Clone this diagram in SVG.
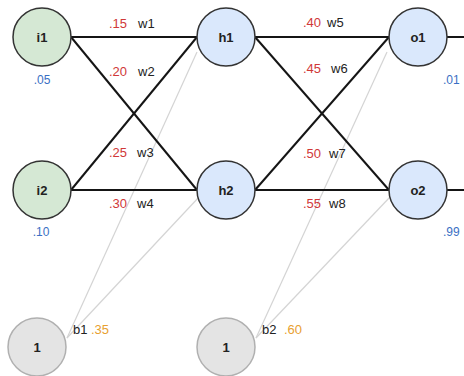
<svg xmlns="http://www.w3.org/2000/svg" width="464" height="376" viewBox="0 0 464 376">
<style>
text{font-family:"Liberation Sans",Arial,sans-serif}
.w{stroke:#151515;stroke-width:2;fill:none}
.b{stroke:#d4d4d4;stroke-width:1.2;fill:none}
.in{fill:#d5e8d4;stroke:#333;stroke-width:1.5}
.hid{fill:#dae8fc;stroke:#333;stroke-width:1.5}
.bias{fill:#e4e4e4;stroke:#b0b0b0;stroke-width:1.5}
.nl{font-size:13px;font-weight:bold;fill:#222;text-anchor:middle}
.r{font-size:13px;fill:#d03838}
.k{font-size:13px;fill:#222}
.bl{font-size:12px;fill:#3a6fc4}
.o{font-size:13px;fill:#e8a030}
</style>
<g id="connectors">
<line class="b" x1="67" y1="338" x2="197" y2="52"/>
<line class="b" x1="67" y1="338" x2="199" y2="197"/>
<line class="b" x1="256" y1="338" x2="387" y2="52"/>
<line class="b" x1="256" y1="338" x2="390" y2="197"/>
<line class="w" x1="71" y1="37" x2="197" y2="37"/>
<line class="w" x1="71" y1="37" x2="197" y2="190"/>
<line class="w" x1="71" y1="190" x2="197" y2="37"/>
<line class="w" x1="71" y1="190" x2="197" y2="190"/>
<line class="w" x1="255" y1="37" x2="389" y2="37"/>
<line class="w" x1="255" y1="37" x2="389" y2="190"/>
<line class="w" x1="255" y1="190" x2="389" y2="37"/>
<line class="w" x1="255" y1="190" x2="389" y2="190"/>
<line class="w" x1="447" y1="37" x2="464" y2="37"/>
<line class="w" x1="447" y1="190" x2="464" y2="190"/>
</g>
<g id="i1"><circle class="in" cx="42" cy="37" r="29"/><text class="nl" x="42" y="42">i1</text></g>
<g id="i2"><circle class="in" cx="42" cy="190" r="29"/><text class="nl" x="42" y="195">i2</text></g>
<g id="h1"><circle class="hid" cx="226" cy="37" r="29"/><text class="nl" x="226" y="42">h1</text></g>
<g id="h2"><circle class="hid" cx="226" cy="190" r="29"/><text class="nl" x="226" y="195">h2</text></g>
<g id="o1"><circle class="hid" cx="418" cy="37" r="29"/><text class="nl" x="418" y="42">o1</text></g>
<g id="o2"><circle class="hid" cx="418" cy="190" r="29"/><text class="nl" x="418" y="195">o2</text></g>
<g id="b1"><circle class="bias" cx="37" cy="347" r="29"/><text class="nl" x="37" y="352">1</text></g>
<g id="b2"><circle class="bias" cx="226" cy="347" r="29"/><text class="nl" x="226" y="352">1</text></g>
<g id="labels">
<text class="bl" x="42" y="84" text-anchor="middle">.05</text>
<text class="bl" x="41" y="236" text-anchor="middle">.10</text>
<text class="bl" x="443" y="84">.01</text>
<text class="bl" x="443" y="236">.99</text>
<text class="r" x="109" y="28">.15</text><text class="k" x="138" y="28">w1</text>
<text class="r" x="109" y="76">.20</text><text class="k" x="138" y="76">w2</text>
<text class="r" x="109" y="157">.25</text><text class="k" x="137" y="157">w3</text>
<text class="r" x="109" y="208">.30</text><text class="k" x="137" y="208">w4</text>
<text class="r" x="303" y="27">.40</text><text class="k" x="327" y="27">w5</text>
<text class="r" x="303" y="73">.45</text><text class="k" x="331" y="73">w6</text>
<text class="r" x="303" y="158">.50</text><text class="k" x="329" y="158">w7</text>
<text class="r" x="303" y="208">.55</text><text class="k" x="329" y="208">w8</text>
<text class="k" x="73" y="334">b1</text><text class="o" x="91" y="334">.35</text>
<text class="k" x="262" y="334">b2</text><text class="o" x="284" y="334">.60</text>
</g>
</svg>
